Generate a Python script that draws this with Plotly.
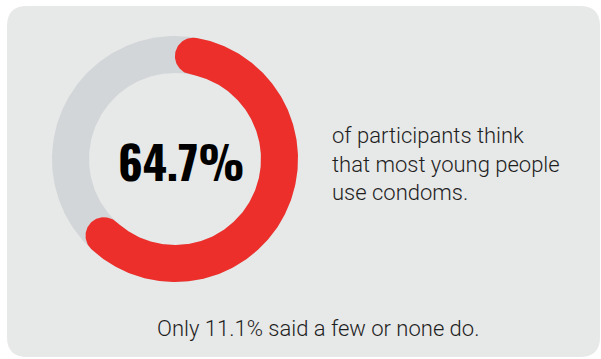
import numpy as np
import plotly.graph_objects as go

# ---- data ----
share_pct = [64.7]
big_label = ["64.7%"]
side_text = ["of participants think", "that most young people", "use condoms."]
foot_text = ["Only 11.1% said a few or none do."]

W, H = 601, 359
CARD = "#e7e8e8"
TRACK = "#d3d6d8"
RED = "#ec2f2a"
INK = "#1e1e1e"

cx, cy = 175, 159
r_out, r_in = 123, 86
r_mid = (r_out + r_in) / 2
half = (r_out - r_in) / 2

fig = go.Figure()

# card background
x0, y0, x1, y1, rr = 7, 6, 600, 357, 20
card_path = (f"M{x0+rr},{y0} L{x1-rr},{y0} Q{x1},{y0} {x1},{y0+rr} L{x1},{y1-rr} "
             f"Q{x1},{y1} {x1-rr},{y1} L{x0+rr},{y1} Q{x0},{y1} {x0},{y1-rr} "
             f"L{x0},{y0+rr} Q{x0},{y0} {x0+rr},{y0} Z")
shapes = [dict(type="path", path=card_path, xref="x", yref="y", fillcolor=CARD,
               line=dict(width=0), layer="below")]

# gray track (full ring)
t = np.linspace(0, 2 * np.pi, 361)
ring_x = np.concatenate([cx + r_out * np.sin(t), [None], cx + r_in * np.sin(t[::-1])])
ring_y = np.concatenate([cy - r_out * np.cos(t), [None], cy - r_in * np.cos(t[::-1])])
fig.add_trace(go.Scatter(x=ring_x, y=ring_y, mode="lines", fill="toself",
                         fillcolor=TRACK, line=dict(width=0), hoverinfo="skip",
                         showlegend=False))

# red arc with rounded caps contained inside the value span
total = share_pct[0] / 100 * 2 * np.pi
cap_ang = half / r_mid
a0, a1 = cap_ang, total - cap_ang
ta = np.linspace(a0, a1, 300)
outer_x = cx + r_out * np.sin(ta)
outer_y = cy - r_out * np.cos(ta)
ec = np.linspace(0, np.pi, 60)
ecx, ecy = cx + r_mid * np.sin(a1), cy - r_mid * np.cos(a1)
end_x = ecx + half * (np.sin(a1) * np.cos(ec) + np.cos(a1) * np.sin(ec))
end_y = ecy + half * (-np.cos(a1) * np.cos(ec) + np.sin(a1) * np.sin(ec))
inner_x = cx + r_in * np.sin(ta[::-1])
inner_y = cy - r_in * np.cos(ta[::-1])
scx, scy = cx + r_mid * np.sin(a0), cy - r_mid * np.cos(a0)
start_x = scx + half * (-np.sin(a0) * np.cos(ec) - np.cos(a0) * np.sin(ec))
start_y = scy + half * (np.cos(a0) * np.cos(ec) - np.sin(a0) * np.sin(ec))
arc_x = np.concatenate([outer_x, end_x, inner_x, start_x])
arc_y = np.concatenate([outer_y, end_y, inner_y, start_y])
fig.add_trace(go.Scatter(x=arc_x, y=arc_y, mode="lines", fill="toself",
                         fillcolor=RED, line=dict(width=0), hoverinfo="skip",
                         showlegend=False))

annotations = [
    dict(x=181.5, y=159.5, text=big_label[0], showarrow=False, xref="x", yref="y",
         xanchor="center", yanchor="middle",
         font=dict(family="Oswald, Roboto Condensed, sans-serif",
                   size=46, color="#000000", weight=700)),
    dict(x=330, y=164, text="<br>".join(side_text), showarrow=False, xref="x", yref="y",
         xanchor="left", yanchor="middle", align="left",
         font=dict(family="Roboto", size=22, color=INK, weight=300)),
    dict(x=318, y=328, text=foot_text[0], showarrow=False, xref="x", yref="y",
         xanchor="center", yanchor="middle",
         font=dict(family="Roboto", size=22, color=INK, weight=300)),
]

fig.update_layout(
    width=W, height=H, margin=dict(l=0, r=0, t=0, b=0),
    paper_bgcolor="white", plot_bgcolor="white",
    xaxis=dict(range=[0, W], visible=False, fixedrange=True),
    yaxis=dict(range=[H, 0], visible=False, fixedrange=True),
    shapes=shapes, annotations=annotations, showlegend=False,
)
fig.write_html("out.html")
